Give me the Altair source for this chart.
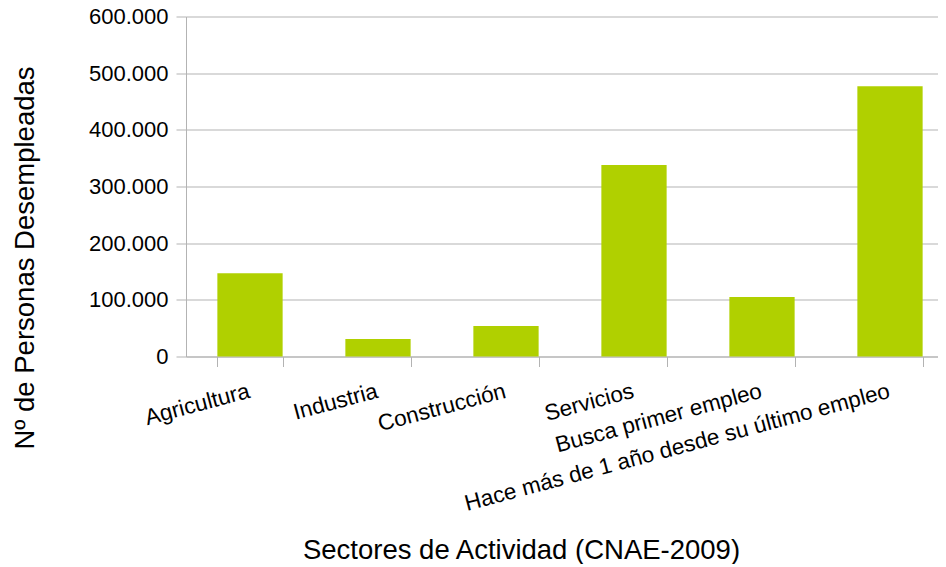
import altair as alt
import pandas as pd

categories = ["Agricultura", "Industria", "Construcción", "Servicios",
              "Busca primer empleo", "Hace más de 1 año desde su último empleo"]
values = [147000, 31000, 54000, 338000, 105000, 477000]
y_ticks = [0, 100000, 200000, 300000, 400000, 500000, 600000]

df = pd.DataFrame({"sector": categories, "value": values})

FONT = "Liberation Sans"
GRAY = "#b3b3b3"

chart = alt.Chart(df).mark_bar(color="#b0d000").encode(
    x=alt.X("sector:N", sort=categories,
            scale=alt.Scale(paddingInner=0.49, paddingOuter=0.245),
            axis=alt.Axis(title="Sectores de Actividad (CNAE-2009)",
                          labelAngle=-15, labelAlign="right", labelBaseline="top",
                          labelPadding=13, labelOffset=-4, labelFontSize=22.5, labelFont=FONT,
                          labelColor="black", labelLimit=0,
                          tickBand="extent", tickSize=10, tickColor=GRAY,
                          domainColor=GRAY, grid=False,
                          titleFont=FONT, titleFontSize=27.5, titleFontWeight="normal",
                          titleColor="black", titleX=335, titleY=201.5,
                          titleAlign="center", titleBaseline="alphabetic")),
    y=alt.Y("value:Q",
            scale=alt.Scale(domain=[0, 600000], nice=False),
            axis=alt.Axis(title="Nº de Personas Desempleadas", values=y_ticks,
                          labelExpr="replace(format(datum.value, ','), ',', '.')",
                          labelFontSize=22, labelFont=FONT, labelColor="black",
                          labelPadding=8, tickSize=10, tickColor=GRAY,
                          domainColor=GRAY, gridColor=GRAY,
                          titleFont=FONT, titleFontSize=27.5, titleFontWeight="normal",
                          titleColor="black", titleAngle=270, titleX=-153, titleY=241,
                          titleAlign="center", titleBaseline="alphabetic")),
).properties(
    width=768, height=340,
    autosize=alt.AutoSizeParams(type="none"),
    padding={"left": 178, "top": 8.5, "right": -16, "bottom": 207},
).configure_view(stroke=None)

chart.save("out.html", embed_options={"renderer": "svg", "actions": False})
